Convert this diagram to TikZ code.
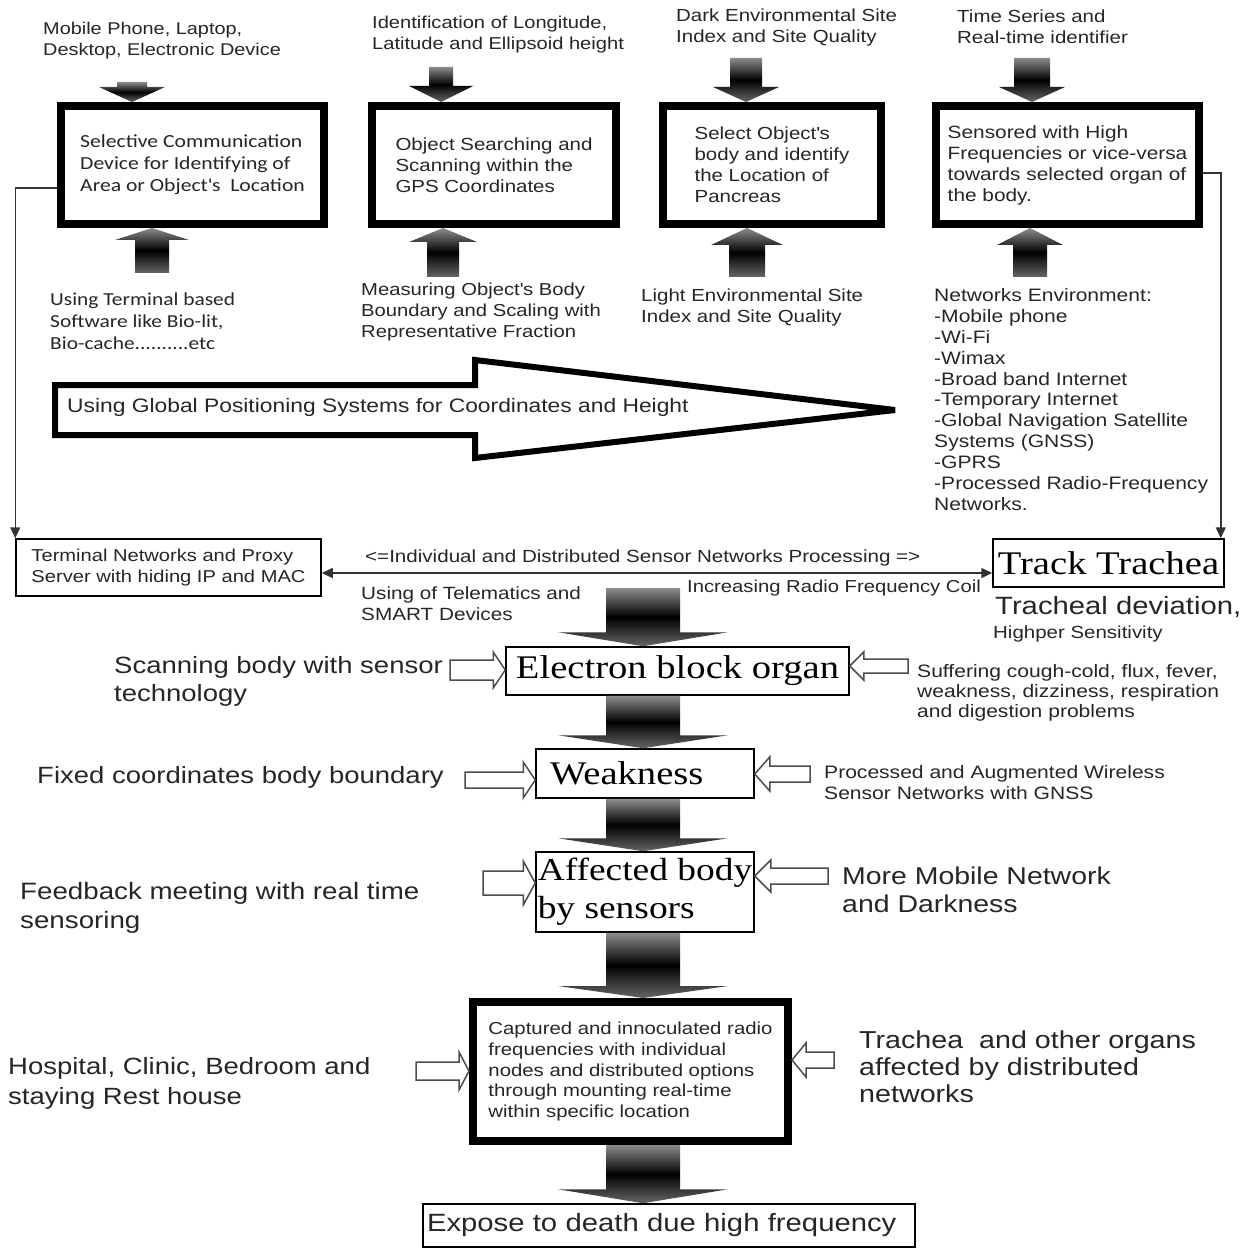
\documentclass[tikz,border=0pt]{standalone}
\usepackage{fontspec}
\setmainfont[FakeStretch=1.17]{Liberation Sans}
\newfontfamily\calib[FakeStretch=1.17]{Carlito}
\newfontfamily\tnr[FakeStretch=1.17]{Liberation Serif}
\usetikzlibrary{calc, positioning, arrows.meta}

\newcommand*{\fsz}[2]{\fontsize{#1}{#2}\selectfont}

% dark block arrow: tail, tip, half shaft, half head, head length (signed)
\newcommand{\blockarr}[5]{%
  \shade[top color=black!45, bottom color=black!60, middle color=black]
    let \p1=#1, \p2=#2 in
    ({\x1-#3},\y1) -- ({\x1+#3},\y1) -- ({\x1+#3},{\y2+(#5)}) -- ({\x1+#4},{\y2+(#5)})
    -- (\x1,\y2) -- ({\x1-#4},{\y2+(#5)}) -- ({\x1-#3},{\y2+(#5)}) -- cycle;}

% white arrow: tail, tip, half shaft, half head, head length (signed)
\newcommand{\hollowarr}[5]{%
  \draw[hollow] let \p1=#1, \p2=#2 in
    (\x1,{\y1-#3}) -- ({\x2-(#5)},{\y1-#3}) -- ({\x2-(#5)},{\y1-#4}) -- (\x2,\y1)
    -- ({\x2-(#5)},{\y1+#4}) -- ({\x2-(#5)},{\y1+#3}) -- (\x1,{\y1+#3}) -- cycle;}

\begin{document}
\begin{tikzpicture}[x=1pt, y=-1pt,
    txt/.style={inner sep=0pt, align=left, anchor=west, text=black!85},
    small/.style={txt, font=\fsz{17.5}{21}},
    big/.style={txt, font=\fsz{23.5}{28}},
    heavybox/.style={draw, line width=8pt, align=left, inner sep=0pt, text=black!85},
    thinbox/.style={draw, line width=1.5pt, inner sep=0pt},
    serifbox/.style={thinbox, font=\tnr\fsz{33}{38}},
    conn/.style={draw=black!80, line width=1.5pt, -{Triangle[length=11pt,width=10pt]}},
    twoway/.style={draw=black!80, line width=1.5pt, {Triangle[length=11pt,width=10pt]}-{Triangle[length=11pt,width=10pt]}},
    hollow/.style={draw=black!70, line width=1.5pt, fill=white, line join=miter}]

    \useasboundingbox (0,0) rectangle (1250,1249);
    \fill[white] (0,0) rectangle (1250,1249);

    % top row
    \node[small, font=\fsz{17}{21}] (devices) at (43,41) {Mobile Phone, Laptop,\\Desktop, Electronic Device};
    \node[small, font=\fsz{17.2}{21}] (lonlat) at (372,34.5) {Identification of Longitude,\\Latitude and Ellipsoid height};
    \node[small] (darkenv) at (676,27.5) {Dark Environmental Site\\Index and Site Quality};
    \node[small] (timeser) at (957,27) {Time Series and\\Real-time identifier};

    \node[heavybox, font=\calib\fsz{18.5}{22}, minimum width=263pt, minimum height=118pt] (selcomm) at (192.5,165)
        {Selective Communication\\Device for Identifying of\\Area or Object\textquotesingle s\ \ Location};
    \node[heavybox, font=\fsz{17.5}{21}, minimum width=244pt, minimum height=118pt] (objsearch) at (494,165)
        {Object Searching and\\Scanning within the\\GPS Coordinates};
    \node[heavybox, font=\fsz{17.5}{21}, minimum width=218pt, minimum height=118pt] (pancreas) at (772,165)
        {Select Object\textquotesingle s\\body and identify\\the Location of\\Pancreas};
    \node[heavybox, font=\fsz{17.8}{21}, minimum width=263pt, minimum height=118pt] (sensored) at (1067.5,165)
        {Sensored with High\\Frequencies or vice-versa\\towards selected organ of\\the body.};

    \coordinate (a1) at (132,82);
    \coordinate (a2) at (441,67);
    \coordinate (a3) at (746,58);
    \coordinate (a4) at (1032,58);
    \blockarr{(a1)}{(a1 |- selcomm.north)}{15pt}{33pt}{15pt}
    \blockarr{(a2)}{(a2 |- objsearch.north)}{12pt}{32pt}{16pt}
    \blockarr{(a3)}{(a3 |- pancreas.north)}{16pt}{33pt}{15pt}
    \blockarr{(a4)}{(a4 |- sensored.north)}{18pt}{33pt}{15pt}

    \coordinate (u1) at (152,273);
    \coordinate (u2) at (443,277);
    \coordinate (u3) at (747,277);
    \coordinate (u4) at (1030,277);
    \blockarr{(u1)}{(u1 |- selcomm.south)}{17pt}{37pt}{-12pt}
    \blockarr{(u2)}{(u2 |- objsearch.south)}{16pt}{34pt}{-14pt}
    \blockarr{(u3)}{(u3 |- pancreas.south)}{18pt}{36pt}{-17pt}
    \blockarr{(u4)}{(u4 |- sensored.south)}{17pt}{33pt}{-17pt}

    \node[txt, font=\calib\fsz{18.3}{22}] (termsw) at (50,321.5) {Using Terminal based\\Software like Bio-lit,\\Bio-cache..........etc};
    \node[small, font=\fsz{17.3}{21}] (measure) at (361,312.5) {Measuring Object\textquotesingle s Body\\Boundary and Scaling with\\Representative Fraction};
    \node[small] (lightenv) at (641,307) {Light Environmental Site\\Index and Site Quality};
    \node[txt, font=\fsz{18}{20.9}] (netenv) at (934,399.5) {Networks Environment:\\-Mobile phone\\-Wi-Fi\\-Wimax\\-Broad band Internet\\-Temporary Internet\\-Global Navigation Satellite\\Systems (GNSS)\\-GPRS\\-Processed Radio-Frequency\\Networks.};

    % big white arrow
    \draw[line width=6pt, line join=miter, miter limit=3] (55,385) -- (475,385) -- (475,360) -- (895,410)
        -- (475,458) -- (475,435) -- (55,435) -- cycle;
    \node[txt, font=\fsz{19.5}{24}] (gps) at (67,407) {Using Global Positioning Systems for Coordinates and Height};

    % middle row
    \node[thinbox, font=\fsz{17.2}{21}, align=left, minimum width=305pt, minimum height=57pt, text=black!85] (term) at (168.5,567.5)
        {Terminal Networks and Proxy\\Server with hiding IP and MAC};
    \node[serifbox, minimum width=231pt, minimum height=48pt] (track) at (1108.5,563) {Track Trachea};

    \draw[conn] ($(selcomm.west)+(0,23)$) -| (term.north west);
    \draw[conn] ($(sensored.east)+(0,8)$) -| ($(track.north east)+(-4,0)$);
    \coordinate (mid) at ($(term.east)+(0,5.5)$);
    \draw[twoway] (mid) -- (mid -| track.west);

    \node[small, font=\fsz{17.6}{21}] (indiv) at (365,558) {<=Individual and Distributed Sensor Networks Processing =>};
    \node[small, font=\fsz{17.7}{21}] (telem) at (361,604) {Using of Telematics and\\SMART Devices};
    \node[small, font=\fsz{17.3}{21}] (rfcoil) at (687,588) {Increasing Radio Frequency Coil};
    \node[txt, font=\fsz{25}{27}] (deviation) at (995,607) {Tracheal deviation,};
    \node[txt, font=\fsz{17.5}{20}] (sensitiv) at (993,634) {Highper Sensitivity};

    % central column
    \node[serifbox, minimum width=343pt, minimum height=48pt] (elec) at (677.5,671) {Electron block organ};
    \node[serifbox, text width=190pt, inner xsep=14pt, align=left, minimum height=49pt] (weak) at (645,773.5) {Weakness};
    \node[serifbox, font=\tnr\fsz{32}{38}, align=left, minimum width=218pt, minimum height=80pt] (affect) at (645,892) {Affected body\\by sensors};
    \node[heavybox, font=\fsz{17.4}{20.8}, minimum width=315pt, minimum height=139pt] (captured) at (630.5,1071.5)
        {Captured and innoculated radio\\frequencies with individual\\nodes and distributed options\\through mounting real-time\\within specific location};
    \node[thinbox, font=\fsz{25}{30}, text width=484pt, inner xsep=4pt, align=left, minimum height=43pt, text=black!85] (expose) at (669,1225.5)
        {Expose to death due high frequency};

    \coordinate (ax) at (643,588);
    \blockarr{(ax)}{(ax |- elec.north)}{37pt}{85pt}{14pt}
    \blockarr{(ax |- elec.south)}{(ax |- weak.north)}{37pt}{85pt}{13pt}
    \blockarr{(ax |- weak.south)}{(ax |- affect.north)}{37pt}{85pt}{13pt}
    \blockarr{(ax |- affect.south)}{(ax |- captured.north)}{37pt}{85pt}{12pt}
    \blockarr{(ax |- captured.south)}{(ax |- expose.north)}{37pt}{85pt}{14pt}

    % side notes
    \node[big] (scanning) at (114,681) {Scanning body with sensor\\technology};
    \node[big] (fixed) at (37,777) {Fixed coordinates body boundary};
    \node[big, font=\fsz{23.7}{29}] (feedback) at (20,907.5) {Feedback meeting with real time\\sensoring};
    \node[big, font=\fsz{23.5}{30}] (hospital) at (8,1083) {Hospital, Clinic, Bedroom and\\staying Rest house};
    \node[txt, font=\fsz{18}{20}] (suffer) at (917,693) {Suffering cough-cold, flux, fever,\\weakness, dizziness, respiration\\and digestion problems};
    \node[small, font=\fsz{18}{21}] (augment) at (824,782.5) {Processed and Augmented Wireless\\Sensor Networks with GNSS};
    \node[big, font=\fsz{24.3}{28}] (moremob) at (842,890) {More Mobile Network\\and Darkness};
    \node[big, font=\fsz{24.5}{27}] (trachorg) at (859,1067) {Trachea\ \ and other organs\\affected by distributed\\networks};

    \coordinate (h1) at (450,670);
    \coordinate (h2) at (465,780);
    \coordinate (h3) at (483,883);
    \coordinate (h4) at (416,1071);
    \coordinate (h5) at (908,666);
    \coordinate (h6) at (810,774);
    \coordinate (h7) at (828,876);
    \coordinate (h8) at (834,1060);
    \hollowarr{(h1)}{(h1 -| elec.west)}{10pt}{18pt}{12pt}
    \hollowarr{(h2)}{(h2 -| weak.west)}{8pt}{18pt}{12pt}
    \hollowarr{(h3)}{(h3 -| affect.west)}{12pt}{22pt}{12pt}
    \hollowarr{(h4)}{(h4 -| captured.west)}{9pt}{19pt}{10pt}
    \hollowarr{(h5)}{(h5 -| elec.east)}{7pt}{14pt}{-14pt}
    \hollowarr{(h6)}{(h6 -| weak.east)}{8pt}{17pt}{-15pt}
    \hollowarr{(h7)}{(h7 -| affect.east)}{8pt}{16pt}{-16pt}
    \hollowarr{(h8)}{(h8 -| captured.east)}{8pt}{17pt}{-14pt}
\end{tikzpicture}
\end{document}
